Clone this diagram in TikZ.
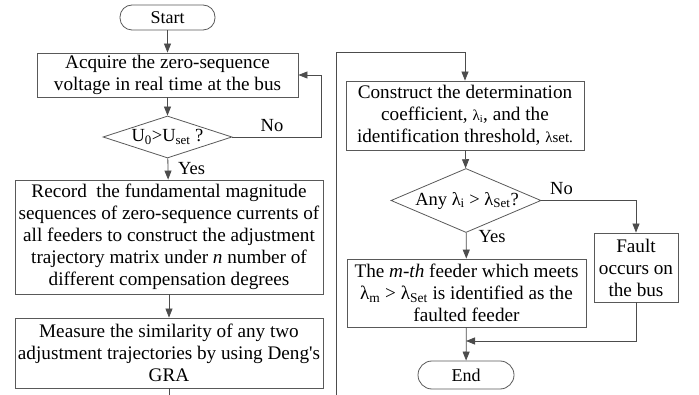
\documentclass[tikz,border=0pt]{standalone}
\usepackage{fontspec}
\setmainfont{Liberation Serif}
\usetikzlibrary{arrows.meta,shapes.geometric}
\begin{document}
\begin{tikzpicture}[x=1pt,y=-1pt,
  font=\fontsize{19.2}{22}\selectfont,
  every node/.style={text=black},
  box/.style={draw=black!65,line width=0.8pt,rectangle,inner sep=0pt,align=center},
  term/.style={draw=black!65,line width=0.8pt,rectangle,rounded corners=12pt,inner sep=0pt,align=center,font=\fontsize{18}{21}\selectfont},
  dia/.style={draw=black!65,line width=0.8pt,diamond,inner sep=0pt},
  dtext/.style={inner sep=0pt,font=\fontsize{18.5}{21}\selectfont},
  arr/.style={draw=black!70,line width=0.8pt,-{Triangle[length=9pt,width=7pt]}},
  lab/.style={inner sep=0pt,font=\fontsize{18.5}{21}\selectfont}]
\useasboundingbox (0,0) rectangle (699,395);
\node[term,minimum width=95pt,minimum height=25pt] (start) at (167.5,17.5) {Start};
\node[box,minimum width=261pt,minimum height=44pt] (b1) at (167.5,75) {Acquire the zero-sequence\\voltage in real time at the bus};
\node[dia,minimum width=129pt,minimum height=42pt] (d1) at (167.5,137) {};
\node[dtext] (d1t) at (167.5,137) {U\textsubscript{0}>U\textsubscript{set} ?};
\node[box,minimum width=308pt,minimum height=114pt] (b2) at (169,237) {Record\ \ the fundamental magnitude\\sequences of zero-sequence currents of\\all feeders to construct the adjustment\\trajectory matrix under \textit{n} number of\\different compensation degrees};
\node[box,minimum width=308pt,minimum height=70pt] (b3) at (169,353) {Measure the similarity of any two\\adjustment trajectories by using Deng\textquotesingle s\\GRA};
\node[box,minimum width=238pt,minimum height=69pt] (b4) at (465,115.5) {Construct the determination\\coefficient, {\fontsize{15}{15}\selectfont λ\textsubscript{i}}, and the\\identification threshold, {\fontsize{15}{15}\selectfont λset.}};
\node[dia,minimum width=150pt,minimum height=64pt] (d2) at (466,200.5) {};
\node[dtext] (d2t) at (467,200.5) {Any λ\textsubscript{i} > λ\textsubscript{Set}?};
\node[box,minimum width=239pt,minimum height=68pt] (b5) at (466.5,293) {The \textit{m-th} feeder which meets\\λ\textsubscript{m} > λ\textsubscript{Set} is identified as the\\faulted feeder};
\node[box,minimum width=84pt,minimum height=69pt] (b6) at (636,267.5) {Fault\\occurs on\\the bus};
\node[term,minimum width=96pt,minimum height=28pt,rounded corners=14pt] (end) at (466,375) {End};
\coordinate (lt) at (336,52);
\coordinate (jn) at (466,341);
\draw[arr] (start) -- (b1);
\draw[arr] (b1) -- (d1);
\draw[arr] (d1.east) -- ++(89,0) |- (b1.east);
\node[lab] (no1) at (272,126) {No};
\draw[arr] (d1) -- (b2);
\node[lab] (yes1) at (191.5,169) {Yes};
\draw[arr] (b2) -- (b3);
\draw[arr] (b3.south) -- ++(0,20) -| (lt) -| (b4.north);
\draw[arr] (b4) -- (d2);
\draw[arr] (d2.east) -| (b6.north);
\node[lab] (no2) at (561.5,189) {No};
\draw[arr] (d2) -- (b5);
\node[lab] (yes2) at (492,237) {Yes};
\draw[arr] (b5) -- (end);
\draw[arr] (b6.south) |- (jn);
\end{tikzpicture}
\end{document}
